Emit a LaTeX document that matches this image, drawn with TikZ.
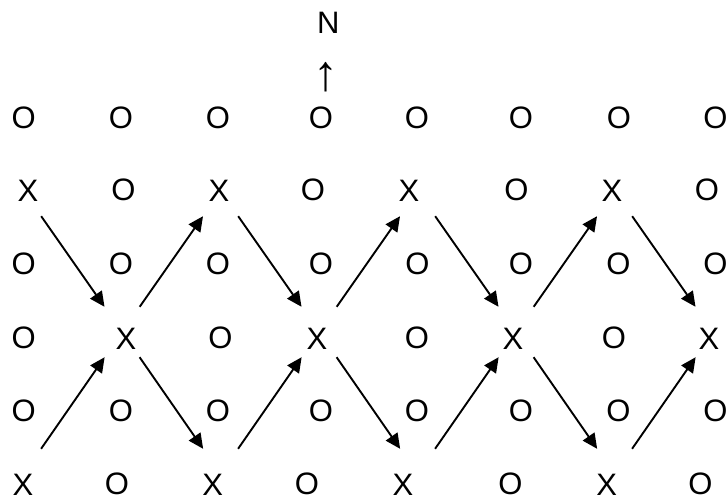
\documentclass[tikz,border=0pt]{standalone}
\usepackage{fontspec}
\setmainfont{Liberation Sans}
\usetikzlibrary{arrows.meta}
\newcommand\xg[2]{\makebox[0pt]{\hspace*{#1pt}\hspace*{#1pt}\raisebox{#2pt}{X}}}
\tikzset{
  lbl/.style={inner sep=0pt, font=\fontsize{31pt}{37pt}\selectfont},
  xn/.style={lbl, text height=36.1pt, text depth=13.9pt, minimum width=50pt},
  arr/.style={draw, line width=1.9pt, -{Triangle[length=15pt,width=14pt]}}
}
\begin{document}
\begin{tikzpicture}[x=1pt,y=-1pt]
\useasboundingbox (0,0) rectangle (728,500);
% north marker
\node[lbl] (north) at (328.3,23) {N};
\node[lbl, font=\fontsize{50pt}{60pt}\selectfont] (uparrow) at (326,77) {↑};
% row 1
\node[lbl] (o11) at (23.8,118) {O};
\node[lbl] (o12) at (121,118) {O};
\node[lbl] (o13) at (218,118) {O};
\node[lbl] (o14) at (321,118) {O};
\node[lbl] (o15) at (417,118) {O};
\node[lbl] (o16) at (521,118) {O};
\node[lbl] (o17) at (619,118) {O};
\node[lbl] (o18) at (715.5,118) {O};
% row 2
\node[xn] (x21) at (23.6,191) {\xg{4.4}{1}};
\node[lbl] (o22) at (123.5,190) {O};
\node[xn] (x23) at (220.6,191) {\xg{-1.6}{1}};
\node[lbl] (o24) at (313,190) {O};
\node[xn] (x25) at (417.6,191) {\xg{-8.6}{1}};
\node[lbl] (o26) at (516.5,190) {O};
\node[xn] (x27) at (614.6,191) {\xg{-2.6}{1}};
\node[lbl] (o28) at (707,190) {O};
% row 3
\node[lbl] (o31) at (23.8,264) {O};
\node[lbl] (o32) at (121,264) {O};
\node[lbl] (o33) at (218,264) {O};
\node[lbl] (o34) at (321,264) {O};
\node[lbl] (o35) at (417.5,264) {O};
\node[lbl] (o36) at (521,264) {O};
\node[lbl] (o37) at (618.5,264) {O};
\node[lbl] (o38) at (715.5,264) {O};
% row 4
\node[lbl] (o41) at (23.8,338) {O};
\node[xn] (x42) at (122.1,332) {\xg{3.9}{-6}};
\node[lbl] (o43) at (220.5,338) {O};
\node[xn] (x44) at (319.1,332) {\xg{-2.1}{-6}};
\node[lbl] (o45) at (417,338) {O};
\node[xn] (x46) at (516.1,332) {\xg{-3.1}{-6}};
\node[lbl] (o47) at (614,338) {O};
\node[xn] (x48) at (713.1,332) {\xg{-4.1}{-6}};
% row 5
\node[lbl] (o51) at (23.8,411) {O};
\node[lbl] (o52) at (121,411) {O};
\node[lbl] (o53) at (218,411) {O};
\node[lbl] (o54) at (321,411) {O};
\node[lbl] (o55) at (417,411) {O};
\node[lbl] (o56) at (521,411) {O};
\node[lbl] (o57) at (618.5,411) {O};
\node[lbl] (o58) at (715.5,411) {O};
% row 6
\node[xn] (x61) at (23.6,474) {\xg{-0.6}{-10}};
\node[lbl] (o62) at (117,484) {O};
\node[xn] (x63) at (220.6,474) {\xg{-7.9}{-10}};
\node[lbl] (o64) at (307,484) {O};
\node[xn] (x65) at (417.6,474) {\xg{-14.6}{-10}};
\node[lbl] (o66) at (510.5,484) {O};
\node[xn] (x67) at (614.6,474) {\xg{-7.9}{-10}};
\node[lbl] (o68) at (700.5,484) {O};
% upper zigzag
\draw[arr] (x21) -- (x42);
\draw[arr] (x42) -- (x23);
\draw[arr] (x23) -- (x44);
\draw[arr] (x44) -- (x25);
\draw[arr] (x25) -- (x46);
\draw[arr] (x46) -- (x27);
\draw[arr] (x27) -- (x48);
% lower zigzag
\draw[arr] (x61) -- (x42);
\draw[arr] (x42) -- (x63);
\draw[arr] (x63) -- (x44);
\draw[arr] (x44) -- (x65);
\draw[arr] (x65) -- (x46);
\draw[arr] (x46) -- (x67);
\draw[arr] (x67) -- (x48);
\end{tikzpicture}
\end{document}
